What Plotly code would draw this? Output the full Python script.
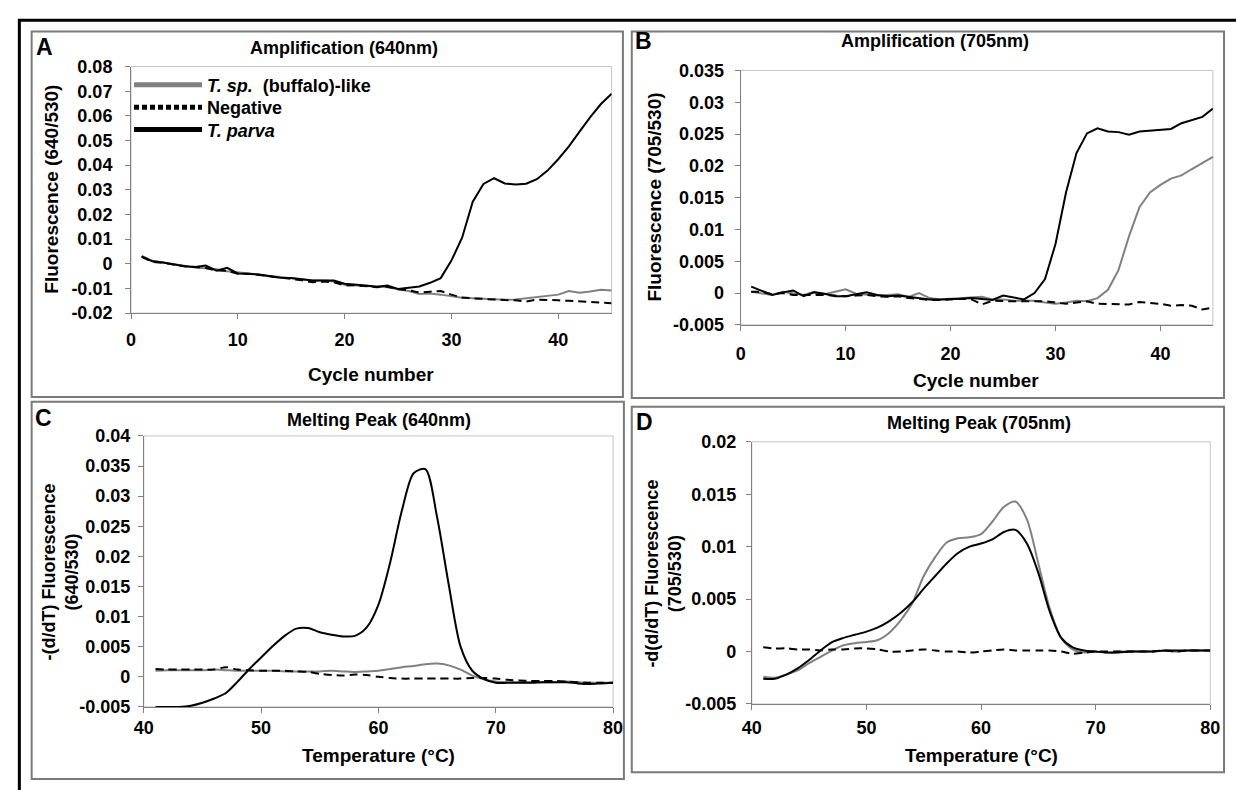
import plotly.graph_objects as go

W, H = 1236, 790
FONT = "Liberation Sans, Arial, sans-serif"

# ---------------- data ----------------
cycles = list(range(1, 46))

A_sp = [0.0032, 0.0012, 0.0005, -0.0002, -0.0010, -0.0015, -0.0018, -0.0022, -0.0030, -0.0035,
        -0.0040, -0.0043, -0.0048, -0.0055, -0.0060, -0.0065, -0.0068, -0.0068, -0.0072, -0.0085,
        -0.0088, -0.0090, -0.0092, -0.0095, -0.0103, -0.0110, -0.0122, -0.0120, -0.0125, -0.0132,
        -0.0138, -0.0140, -0.0143, -0.0146, -0.0146, -0.0145, -0.0140, -0.0135, -0.0132, -0.0125,
        -0.0110, -0.0117, -0.0112, -0.0105, -0.0108]
A_neg = [0.0028, 0.0008, 0.0004, -0.0003, -0.0010, -0.0013, -0.0017, -0.0027, -0.0028, -0.0040,
         -0.0040, -0.0045, -0.0050, -0.0055, -0.0060, -0.0067, -0.0075, -0.0072, -0.0075, -0.0088,
         -0.0087, -0.0092, -0.0095, -0.0093, -0.0103, -0.0107, -0.0117, -0.0113, -0.0110, -0.0125,
         -0.0137, -0.0140, -0.0143, -0.0145, -0.0147, -0.0148, -0.0153, -0.0145, -0.0145, -0.0148,
         -0.0150, -0.0153, -0.0157, -0.0157, -0.0160]
A_parva = [0.0030, 0.0010, 0.0005, -0.0003, -0.0010, -0.0013, -0.0007, -0.0028, -0.0016, -0.0039,
           -0.0040, -0.0043, -0.0050, -0.0057, -0.0058, -0.0063, -0.0068, -0.0068, -0.0068, -0.0081,
           -0.0083, -0.0088, -0.0093, -0.0088, -0.0102, -0.0097, -0.0092, -0.0077, -0.0058, 0.0013,
           0.0106, 0.0252, 0.0324, 0.0347, 0.0326, 0.0322, 0.0325, 0.0343, 0.0378, 0.0424,
           0.0476, 0.0536, 0.0595, 0.0648, 0.0690]

B_sp = [0.0002, 0.0000, -0.0003, 0.0002, 0.0000, -0.0003, 0.0002, -0.0002, 0.0002, 0.0006,
        -0.0001, -0.0003, -0.0004, -0.0003, -0.0002, -0.0006, 0.0000, -0.0008, -0.0010, -0.0009,
        -0.0008, -0.0008, -0.0006, -0.0010, -0.0010, -0.0012, -0.0012, -0.0012, -0.0015, -0.0017,
        -0.0015, -0.0012, -0.0013, -0.0008, 0.0005, 0.0036, 0.0089, 0.0135, 0.0158, 0.0170,
        0.0180, 0.0185, 0.0195, 0.0204, 0.0214]
B_neg = [0.0002, 0.0002, -0.0002, 0.0000, -0.0003, -0.0003, -0.0002, -0.0003, -0.0004, -0.0005,
         -0.0004, -0.0003, -0.0005, -0.0006, -0.0005, -0.0008, -0.0009, -0.0011, -0.0011, -0.0010,
         -0.0009, -0.0010, -0.0018, -0.0012, -0.0013, -0.0013, -0.0013, -0.0013, -0.0013, -0.0015,
         -0.0017, -0.0015, -0.0013, -0.0017, -0.0017, -0.0018, -0.0018, -0.0014, -0.0015, -0.0017,
         -0.0020, -0.0019, -0.0020, -0.0026, -0.0023]
B_parva = [0.0010, 0.0003, -0.0003, 0.0001, 0.0004, -0.0005, 0.0001, -0.0001, -0.0005, -0.0005,
           -0.0002, 0.0001, -0.0003, -0.0005, -0.0004, -0.0006, -0.0009, -0.0010, -0.0010, -0.0010,
           -0.0009, -0.0008, -0.0010, -0.0011, -0.0004, -0.0007, -0.0010, 0.0000, 0.0022, 0.0077,
           0.0158, 0.0220, 0.0251, 0.0259, 0.0254, 0.0253, 0.0249, 0.0254, 0.0255, 0.0256,
           0.0258, 0.0267, 0.0272, 0.0277, 0.0290]

temps = list(range(41, 81))

C_sp = [0.0010, 0.0011, 0.0011, 0.0011, 0.0011, 0.0012, 0.0011, 0.0010, 0.0010, 0.0010,
        0.0010, 0.0009, 0.0009, 0.0009, 0.0009, 0.0010, 0.0009, 0.0008, 0.0009, 0.0010,
        0.0013, 0.0016, 0.0018, 0.0021, 0.0022, 0.0019, 0.0012, 0.0002, -0.0004, -0.0008,
        -0.0009, -0.0009, -0.0009, -0.0009, -0.0009, -0.0008, -0.0009, -0.0010, -0.0010, -0.0010]
C_neg = [0.0013, 0.0012, 0.0012, 0.0012, 0.0012, 0.0012, 0.0016, 0.0012, 0.0011, 0.0010,
         0.0010, 0.0010, 0.0009, 0.0008, 0.0005, 0.0003, 0.0002, 0.0004, 0.0003, 0.0000,
         -0.0002, -0.0003, -0.0003, -0.0003, -0.0003, -0.0003, -0.0003, -0.0002, -0.0002, -0.0003,
         -0.0005, -0.0006, -0.0007, -0.0007, -0.0007, -0.0008, -0.0009, -0.0010, -0.0010, -0.0010]
C_parva = [-0.0050, -0.0050, -0.0050, -0.0048, -0.0043, -0.0036, -0.0027, -0.0008, 0.0013, 0.0032,
           0.0051, 0.0068, 0.0080, 0.0081, 0.0074, 0.0070, 0.0067, 0.0068, 0.0082, 0.0120,
           0.0190, 0.0276, 0.0338, 0.0345, 0.0265, 0.0152, 0.0050, 0.0010, -0.0004, -0.0010,
           -0.0010, -0.0010, -0.0010, -0.0009, -0.0009, -0.0009, -0.0011, -0.0012, -0.0011, -0.0010]

D_sp = [-0.0024, -0.0025, -0.0022, -0.0018, -0.0011, -0.0005, 0.0001, 0.0006, 0.0008, 0.0009,
        0.0011, 0.0018, 0.0030, 0.0046, 0.0072, 0.0090, 0.0104, 0.0108, 0.0109, 0.0112,
        0.0124, 0.0138, 0.0143, 0.0126, 0.0084, 0.0041, 0.0013, 0.0002, -0.0001, 0.0000,
        -0.0001, 0.0000, 0.0000, 0.0000, 0.0000, 0.0001, 0.0000, 0.0001, 0.0001, 0.0001]
D_neg = [0.0004, 0.0003, 0.0003, 0.0002, 0.0002, 0.0001, 0.0002, 0.0002, 0.0003, 0.0003,
         0.0002, 0.0000, 0.0000, 0.0001, 0.0002, 0.0001, 0.0000, 0.0000, -0.0001, 0.0000,
         0.0001, 0.0002, 0.0001, 0.0001, 0.0001, 0.0001, 0.0000, -0.0002, -0.0001, 0.0000,
         0.0000, 0.0000, 0.0000, 0.0000, 0.0000, 0.0001, 0.0000, 0.0001, 0.0001, 0.0001]
D_parva = [-0.0026, -0.0026, -0.0022, -0.0016, -0.0008, 0.0001, 0.0009, 0.0013, 0.0016, 0.0019,
           0.0023, 0.0029, 0.0037, 0.0047, 0.0060, 0.0072, 0.0084, 0.0094, 0.0100, 0.0103,
           0.0107, 0.0114, 0.0116, 0.0103, 0.0075, 0.0038, 0.0013, 0.0004, 0.0001, 0.0000,
           -0.0001, -0.0001, 0.0000, 0.0000, 0.0000, 0.0001, 0.0001, 0.0001, 0.0001, 0.0001]

series_names = ["<i>T. sp.</i>&nbsp; (buffalo)-like", "Negative", "<i>T. parva</i>"]

cyc_ticks = [0, 10, 20, 30, 40]
cyc_ticktext = ["0", "10", "20", "30", "40"]
temp_ticks = [40, 50, 60, 70, 80]
temp_ticktext = ["40", "50", "60", "70", "80"]
A_yticks = [-0.02, -0.01, 0, 0.01, 0.02, 0.03, 0.04, 0.05, 0.06, 0.07, 0.08]
A_yticktext = ["-0.02", "-0.01", "0", "0.01", "0.02", "0.03", "0.04", "0.05", "0.06", "0.07", "0.08"]
B_yticks = [-0.005, 0, 0.005, 0.01, 0.015, 0.02, 0.025, 0.03, 0.035]
B_yticktext = ["-0.005", "0", "0.005", "0.01", "0.015", "0.02", "0.025", "0.03", "0.035"]
C_yticks = [-0.005, 0, 0.005, 0.01, 0.015, 0.02, 0.025, 0.03, 0.035, 0.04]
C_yticktext = ["-0.005", "0", "0.005", "0.01", "0.015", "0.02", "0.025", "0.03", "0.035", "0.04"]
D_yticks = [-0.005, 0, 0.005, 0.01, 0.015, 0.02]
D_yticktext = ["-0.005", "0", "0.005", "0.01", "0.015", "0.02"]

# ---------------- styles ----------------
GRAY = "#808080"
styles = [dict(color=GRAY, width=2),
          dict(color="black", width=2, dash="8px,5px"),
          dict(color="black", width=2)]
smooth = dict(shape="spline", smoothing=0.8)

fig = go.Figure()

panels = [
    ("x", "y", cycles, [A_sp, A_neg, A_parva], False),
    ("x2", "y2", cycles, [B_sp, B_neg, B_parva], False),
    ("x3", "y3", temps, [C_sp, C_neg, C_parva], True),
    ("x4", "y4", temps, [D_sp, D_neg, D_parva], True),
]
for xa, ya, xs, ser, sm in panels:
    for name, ys, st in zip(series_names, ser, styles):
        line = dict(st)
        if sm:
            line.update(smooth)
        fig.add_trace(go.Scatter(x=xs, y=ys, mode="lines", name=name, line=line,
                                 xaxis=xa, yaxis=ya, showlegend=False, hoverinfo="skip"))

# legend entries (thicker keys, like the original), one legend per row for exact spacing
leg_styles = [dict(color=GRAY, width=5),
              dict(color="black", width=5, dash="5px,3px"),
              dict(color="black", width=5)]
leg_ids = ["legend", "legend2", "legend3"]
for name, st, lid in zip(series_names, leg_styles, leg_ids):
    fig.add_trace(go.Scatter(x=[None], y=[None], mode="lines", name=name, line=st,
                             xaxis="x", yaxis="y", showlegend=True, legend=lid))


def dom_x(a, b):
    return [a / W, b / W]


def dom_y(top, bottom):
    return [1 - bottom / H, 1 - top / H]


tickfont = dict(family=FONT, size=18, color="black", weight="bold")


def axis(domain, rng, tv, tt, anchor, lstand):
    return dict(domain=domain, range=rng, tickvals=tv, ticktext=tt, anchor=anchor,
                showline=True, linecolor=GRAY, linewidth=1, mirror=False,
                ticks="outside", ticklen=5, tickwidth=1, tickcolor=GRAY,
                showgrid=False, zeroline=False, tickfont=tickfont,
                ticklabelstandoff=lstand)


legfont = dict(family=FONT, size=18, color="black", weight="bold")


def leg(ycenter):
    return dict(x=121 / W, y=1 - ycenter / H, xanchor="left", yanchor="middle",
                bgcolor="rgba(0,0,0,0)", borderwidth=0, itemwidth=68, font=legfont)


layout = dict(
    width=W, height=H, margin=dict(l=0, r=0, t=0, b=0),
    paper_bgcolor="white", plot_bgcolor="white",
    font=dict(family=FONT, color="black"),
    xaxis=axis(dom_x(123, 611.5), [0, 45], cyc_ticks, cyc_ticktext, "y", 5),
    yaxis=axis(dom_y(58, 311), [-0.02, 0.08], A_yticks, A_yticktext, "x", 9),
    xaxis2=axis(dom_x(742.7, 1222.7), [0, 45], cyc_ticks, cyc_ticktext, "y2", 8),
    yaxis2=axis(dom_y(62, 323), [-0.005, 0.035], B_yticks, B_yticktext, "x2", 7),
    xaxis3=axis(dom_x(136, 613), [40, 80], temp_ticks, temp_ticktext, "y3", 0),
    yaxis3=axis(dom_y(437, 715), [-0.005, 0.04], C_yticks, C_yticktext, "x3", 4),
    xaxis4=axis(dom_x(754, 1220), [40, 80], temp_ticks, temp_ticktext, "y4", 2),
    yaxis4=axis(dom_y(443, 712), [-0.005, 0.02], D_yticks, D_yticktext, "x4", 6),
    legend=leg(77), legend2=leg(100), legend3=leg(123),
    showlegend=True,
)
fig.update_layout(**layout)

# panel frames and plot-area frames
shapes = [dict(type="rect", xref="paper", yref="paper", x0=9.5 / W, x1=1.02, y0=-0.02, y1=1 - 10.5 / H,
               line=dict(color="black", width=3))]
boxes = [(22, 22, 623, 397), (632, 22, 1234, 398), (22, 402, 624, 789), (632, 407, 1234, 782)]
for x0, y0, x1, y1 in boxes:
    shapes.append(dict(type="rect", xref="paper", yref="paper",
                       x0=x0 / W, x1=x1 / W, y0=1 - y1 / H, y1=1 - y0 / H,
                       line=dict(color="#7a7a7a", width=2)))
for xa, ya in [("x", "y"), ("x2", "y2"), ("x3", "y3"), ("x4", "y4")]:
    shapes.append(dict(type="rect", xref=f"{xa} domain", yref=f"{ya} domain", x0=0, x1=1, y0=0, y1=1,
                       line=dict(color="#c4c4c4", width=1), layer="below"))
fig.update_layout(shapes=shapes)

# panel letters, titles and axis titles
ann = []


def add_text(t, x, y, size, angle=0):
    ann.append(dict(text=t, x=x / W, y=1 - y / H, xref="paper", yref="paper", showarrow=False,
                    xanchor="center", yanchor="middle", textangle=angle, align="center",
                    font=dict(family=FONT, size=size, color="black", weight="bold")))


for t, x, y in [("A", 35, 38), ("B", 644, 32), ("C", 34, 419), ("D", 645, 423)]:
    add_text(t, x, y, 23)
for t, x, y in [("Amplification (640nm)", 339, 39), ("Amplification (705nm)", 940, 32),
                ("Melting Peak (640nm)", 375, 421), ("Melting Peak (705nm)", 985, 424)]:
    add_text(t, x, y, 18)
for t, x, y in [("Cycle number", 367, 374), ("Cycle number", 982, 380),
                ("Temperature (°C)", 375, 765), ("Temperature (°C)", 987, 765)]:
    add_text(t, x, y, 19)
add_text("Fluorescence (640/530)", 42, 184, 19, -90)
add_text("Fluorescence (705/530)", 655, 192, 19, -90)
add_text("-(d/dT) Fluorescence<br>(640/530)", 51, 577, 18, -90)
add_text("-d(d/dT) Fluorescence<br>(705/530)", 664, 578, 18, -90)
fig.update_layout(annotations=ann)

fig.write_html("out.html")
